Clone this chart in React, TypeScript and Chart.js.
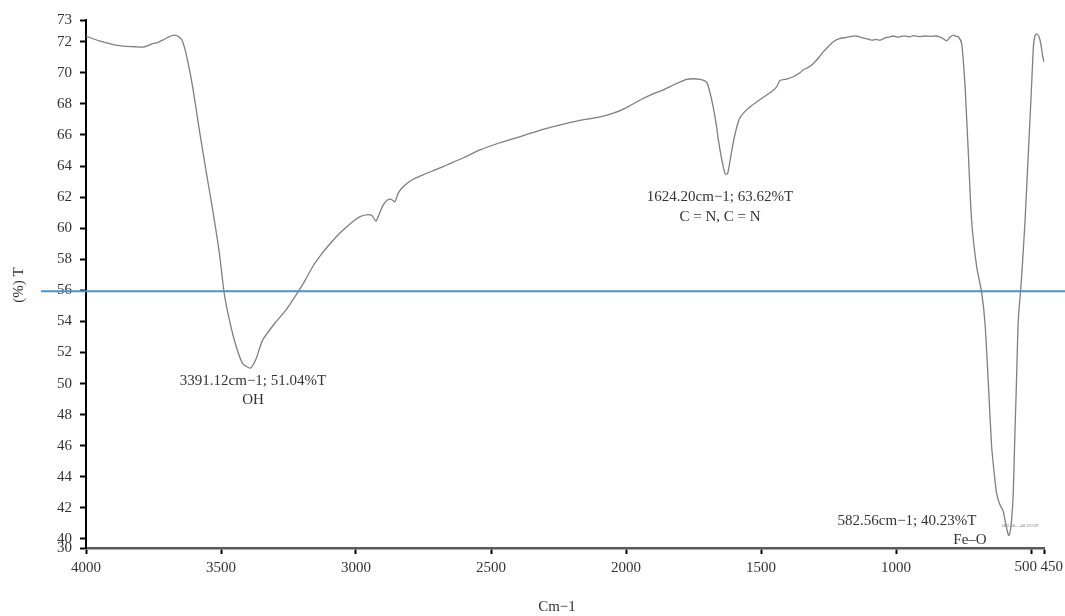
import React, { useEffect, useRef } from "react";
import { Chart, registerables } from "chart.js";

Chart.register(...registerables);

// Wavenumber (cm-1) and transmittance (%T)
const wavenumbers = [
  4000, 3950, 3900, 3877, 3850, 3820, 3790, 3770, 3753, 3735, 3716, 3695, 3673, 3655, 3642, 3625,
  3605, 3580, 3556, 3531, 3506, 3488, 3469, 3444, 3420, 3391, 3370, 3346, 3300, 3259, 3226, 3190,
  3158, 3125, 3096, 3065, 3034, 3010, 2985, 2955, 2940, 2926, 2912, 2899, 2885, 2870, 2856, 2845,
  2831, 2810, 2788, 2750, 2700, 2664, 2600, 2541, 2467, 2400, 2356, 2300, 2220, 2150, 2100, 2047,
  2000, 1948, 1900, 1862, 1820, 1775, 1750, 1726, 1710, 1701, 1690, 1677, 1665, 1658, 1645, 1633,
  1624, 1615, 1603, 1590, 1578, 1560, 1541, 1510, 1479, 1460, 1442, 1430, 1405, 1380, 1356, 1343,
  1325, 1306, 1285, 1269, 1250, 1232, 1210, 1183, 1165, 1146, 1130, 1109, 1090, 1075, 1059, 1040,
  1025, 1010, 990, 970, 950, 936, 915, 895, 870, 850, 830, 812, 800, 788, 778, 769,
  757, 750, 744, 732, 720, 701, 683, 670, 658, 646, 636, 627, 615, 603, 596, 588,
  582, 576, 572, 566, 560, 554, 547, 535, 522, 510, 498, 491, 485, 478, 470, 463,
  456, 452,
];
const transmittance = [
  72.37, 72.05, 71.82, 71.75, 71.7, 71.68, 71.65, 71.75, 71.88, 71.95, 72.1, 72.3, 72.43, 72.3, 72.0, 70.9,
  69.1, 66.3, 63.75, 61.2, 58.4, 55.8, 54.1, 52.4, 51.3, 51.0, 51.6, 52.8, 53.9, 54.75, 55.6, 56.6,
  57.6, 58.4, 59.0, 59.6, 60.1, 60.45, 60.75, 60.88, 60.8, 60.45, 61.0, 61.5, 61.8, 61.86, 61.7, 62.2,
  62.57, 62.9, 63.15, 63.45, 63.8, 64.07, 64.55, 65.04, 65.5, 65.85, 66.1, 66.4, 66.75, 67.0, 67.15, 67.4,
  67.75, 68.25, 68.65, 68.9, 69.25, 69.58, 69.62, 69.58, 69.5, 69.4, 68.8, 67.8, 66.6, 65.7, 64.4, 63.5,
  63.5, 64.3, 65.5, 66.5, 67.1, 67.5, 67.8, 68.2, 68.57, 68.8, 69.1, 69.5, 69.6, 69.75, 70.0, 70.2,
  70.35, 70.6, 71.0, 71.36, 71.7, 72.0, 72.2, 72.28, 72.35, 72.37, 72.28, 72.2, 72.1, 72.15, 72.1, 72.25,
  72.3, 72.37, 72.3, 72.38, 72.32, 72.39, 72.33, 72.37, 72.35, 72.37, 72.25, 72.06, 72.3, 72.43, 72.35, 72.32,
  71.9, 70.6, 69.1, 64.8, 60.5, 57.5, 55.9, 53.8, 50.0, 46.0, 44.2, 42.9, 42.2, 41.8, 41.2, 40.5,
  40.23, 40.6, 41.2, 42.8, 46.5, 50.0, 54.1, 56.8, 60.5, 64.8, 69.1, 71.7, 72.4, 72.5, 72.3, 71.8,
  71.0, 70.7,
];

// Axis ticks (the axis is broken: "30" and "73" sit just outside the linear 40–72 run)
const xTicks = [4000, 3500, 3000, 2500, 2000, 1500, 1000, 500, 450];
const xTickLabels = ["4000", "3500", "3000", "2500", "2000", "1500", "1000", "500", "450"];
const yTickValues = [39.42, 40, 42, 44, 46, 48, 50, 52, 54, 56, 58, 60, 62, 64, 66, 68, 70, 72, 73.4];
const yTickLabels = ["30", "40", "42", "44", "46", "48", "50", "52", "54", "56", "58", "60", "62", "64", "66", "68", "70", "72", "73"];

const referenceLevel = 55.95;

const annotations = [
  { text: "3391.12cm\u22121; 51.04%T", x: 253, y: 381 },
  { text: "OH", x: 253, y: 400 },
  { text: "1624.20cm\u22121; 63.62%T", x: 720, y: 197 },
  { text: "C = N, C = N", x: 720, y: 217 },
  { text: "582.56cm\u22121; 40.23%T", x: 907, y: 521 },
  { text: "Fe\u2013O", x: 970, y: 540 },
];

const FONT = "'Liberation Serif', 'DejaVu Serif', serif";

export default function App() {
  const canvasRef = useRef<HTMLCanvasElement | null>(null);

  useEffect(() => {
    const canvas = canvasRef.current;
    if (!canvas) return;
    const points = wavenumbers.map((w, i) => ({ x: w, y: transmittance[i] }));

    const overlay = {
      id: "overlay",
      afterDraw(chart: any) {
        const ctx = chart.ctx;
        const yScale = chart.scales.y;
        const xScale = chart.scales.x;
        ctx.save();
        // blue reference line
        const yy = yScale.getPixelForValue(referenceLevel);
        ctx.strokeStyle = "#4495ce";
        ctx.lineWidth = 2;
        ctx.beginPath();
        ctx.moveTo(41, yy);
        ctx.lineTo(chart.width, yy);
        ctx.stroke();
        // annotations
        ctx.fillStyle = "#333333";
        ctx.font = `15px ${FONT}`;
        ctx.textAlign = "center";
        ctx.textBaseline = "middle";
        annotations.forEach((a) => ctx.fillText(a.text, a.x, a.y));
        // the two crowded x tick labels at the right end
        const labelY = 567;
        ctx.textAlign = "right";
        ctx.fillText(xTickLabels[7], xScale.getPixelForValue(xTicks[7]) + 6, labelY);
        ctx.textAlign = "left";
        ctx.fillText(xTickLabels[8], xScale.getPixelForValue(xTicks[8]) - 4, labelY);
        ctx.textAlign = "center";
        // tiny peak label
        ctx.font = `5px ${FONT}`;
        ctx.fillStyle = "#777777";
        ctx.fillText("582.56\u201440.23%T", 1020, 526);
        // axis titles
        ctx.font = `15px ${FONT}`;
        ctx.fillStyle = "#333333";
        ctx.fillText("Cm\u22121", 557, 607);
        ctx.translate(19, 285);
        ctx.rotate(-Math.PI / 2);
        ctx.fillText("(%) T", 0, 0);
        ctx.restore();
      },
    };

    const chart = new Chart(canvas, {
      type: "line",
      data: {
        datasets: [
          {
            data: points,
            borderColor: "#7f7f7f",
            borderWidth: 1.3,
            pointRadius: 0,
            tension: 0.2,
            fill: false,
          },
        ],
      },
      options: {
        animation: false,
        responsive: false,
        maintainAspectRatio: false,
        layout: { padding: { left: 0, right: 20.5, top: 20, bottom: 0 } },
        plugins: { legend: { display: false }, tooltip: { enabled: false } },
        scales: {
          x: {
            type: "linear",
            reverse: true,
            min: 450,
            max: 4000,
            afterBuildTicks: (scale: any) => {
              scale.ticks = xTicks.map((v) => ({ value: v }));
            },
            afterFit: (scale: any) => {
              scale.height = 68;
            },
            ticks: {
              autoSkip: false,
              maxRotation: 0,
              padding: 5,
              color: "#333333",
              font: { family: FONT, size: 15 },
              callback: (v: any) => {
                const i = xTicks.indexOf(Number(v));
                // last two labels are drawn by the overlay so they do not collide
                return i >= 0 && i < 7 ? xTickLabels[i] : "";
              },
            },
            grid: { drawOnChartArea: false, drawTicks: true, tickLength: 6, tickColor: "#000", tickWidth: 2 },
            border: { display: true, color: "#5a5a5a", width: 2.5 },
          },
          y: {
            type: "linear",
            min: 39.42,
            max: 73.4,
            afterBuildTicks: (scale: any) => {
              scale.ticks = yTickValues.map((v) => ({ value: v }));
            },
            afterFit: (scale: any) => {
              scale.width = 86;
            },
            ticks: {
              autoSkip: false,
              padding: 8,
              color: "#333333",
              font: { family: FONT, size: 15 },
              callback: (v: any) => {
                const i = yTickValues.findIndex((t) => Math.abs(t - Number(v)) < 1e-6);
                return i >= 0 ? yTickLabels[i] : "";
              },
            },
            grid: { drawOnChartArea: false, drawTicks: true, tickLength: 6, tickColor: "#000", tickWidth: 2 },
            border: { display: true, color: "#000", width: 2 },
          },
        },
      },
      plugins: [overlay],
    });
    return () => chart.destroy();
  }, []);

  return (
    <div style={{ position: "absolute", left: 0, top: 0, width: 1065, height: 616, background: "#fff" }}>
      <canvas ref={canvasRef} width={1065} height={616} style={{ width: 1065, height: 616 }} />
    </div>
  );
}
